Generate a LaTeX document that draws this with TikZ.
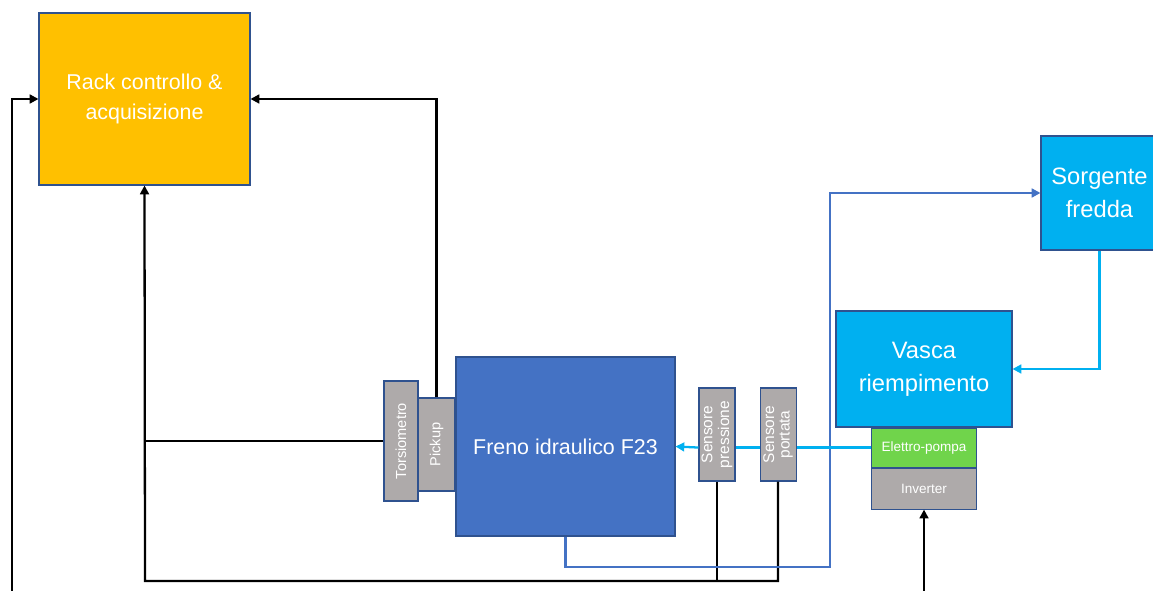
\documentclass[tikz,border=0pt]{standalone}
\usepackage{fontspec}
\setmainfont{Liberation Sans}
\usetikzlibrary{arrows.meta, positioning}
\definecolor{rackfill}{HTML}{FFC000}
\definecolor{coldfill}{HTML}{00B0F0}
\definecolor{brakefill}{HTML}{4472C4}
\definecolor{tagfill}{HTML}{AEAAAA}
\definecolor{pumpfill}{HTML}{70D44B}
\definecolor{boxedge}{HTML}{2F528F}

\begin{document}
\begin{tikzpicture}[
  x=0.02cm, y=-0.02cm,
  box/.style={draw=boxedge, line width=0.6pt, text=white, align=center, inner sep=1pt},
  tag/.style={box, fill=tagfill, font=\fontsize{8.3}{10.3}\selectfont},
  link/.style={line width=1.3pt},
  >={Triangle[length=5pt,width=5pt]}]
\useasboundingbox (0,0) rectangle (1153,591);
% blocchi principali
\node[box, fill=rackfill, minimum width=4.22cm, minimum height=3.44cm,
  font=\fontsize{12.2}{17}\selectfont] (rack) at (144.5,99) {Rack controllo \&\\acquisizione};
\node[box, fill=coldfill, minimum width=2.34cm, minimum height=2.28cm,
  font=\fontsize{13.5}{18.7}\selectfont] (sorg) at (1099.5,193) {Sorgente\\fredda};
\node[box, fill=coldfill, minimum width=3.52cm, minimum height=2.32cm,
  font=\fontsize{13.5}{18.7}\selectfont] (vasca) at (924,369) {Vasca\\riempimento};
\node[box, fill=pumpfill, minimum width=2.1cm, minimum height=0.78cm,
  font=\fontsize{7.7}{9}\selectfont, below=0pt of vasca] (pompa) {Elettro-pompa};
\node[box, fill=tagfill, minimum width=2.1cm, minimum height=0.82cm,
  font=\fontsize{7.7}{9}\selectfont, below=0pt of pompa] (inverter) {Inverter};
\node[box, fill=brakefill, minimum width=4.38cm, minimum height=3.58cm,
  font=\fontsize{12.2}{17}\selectfont] (freno) at (565.5,446.5) {Freno idraulico F23};
% sensori
\node[tag, minimum width=0.74cm, minimum height=1.86cm] (pickup) at (436.5,444.5) {\rotatebox{90}{Pickup}};
\node[tag, minimum width=0.68cm, minimum height=2.4cm] (torsio) at (401,441) {\rotatebox{90}{Torsiometro}};
\node[tag, minimum width=0.72cm, minimum height=1.86cm,
  font=\fontsize{8.8}{10.3}\selectfont] (spress) at (717,434.5) {\rotatebox{90}{\shortstack{Sensore\\pressione}}};
\node[tag, minimum width=0.72cm, minimum height=1.86cm,
  font=\fontsize{8.8}{10.3}\selectfont, right=0.48cm of spress] (sport) {\rotatebox{90}{\shortstack{Sensore\\portata}}};
% punti liberi
\coordinate (leftbot) at (12,591);
\coordinate (bl) at (145,581);
\coordinate (bend) at (830,567);
\coordinate (invbot) at (924,591);
% segnali
\draw[link, ->] (leftbot) |- (rack.west);
\draw[link, ->] (pickup.north) |- (rack.east);
\draw[link, ->] (sport.south) |- (bl) -- (rack.south);
\draw[link] (spress.south) -- (spress.south |- bl);
\draw[link] (torsio.west) -- (torsio.west -| bl);
\draw[link, ->] (invbot) -- (inverter.south);
% circuito acqua
\draw[link, brakefill, ->] (freno.south) |- (bend) |- (sorg.west);
\draw[link, coldfill, ->] (sorg.south) |- (vasca.east);
\draw[link, coldfill] (pompa.west) -- (pompa.west -| sport.east);
\draw[link, coldfill] (pompa.west -| sport.west) -- (pompa.west -| spress.east);
\draw[link, coldfill, ->] (pompa.west -| spress.west) -- (freno.east);
\end{tikzpicture}
\end{document}
